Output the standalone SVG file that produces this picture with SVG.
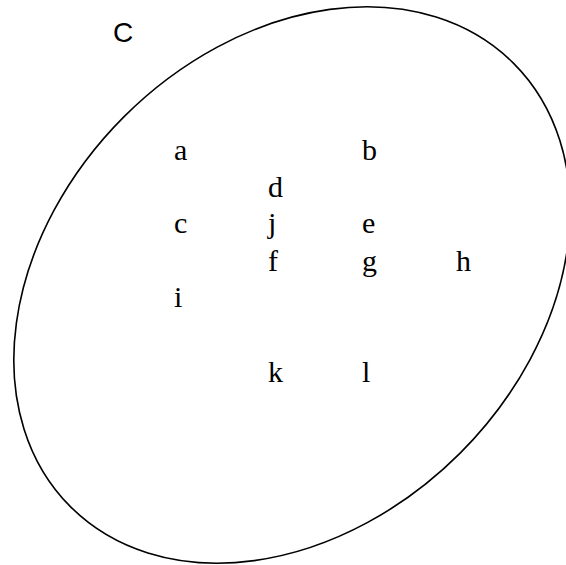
<svg xmlns="http://www.w3.org/2000/svg" width="566" height="565" viewBox="0 0 566 565">
<style>
.lbl{font-family:"Liberation Serif","Times New Roman",serif;font-size:30px;fill:#000}
.set{font-family:"Liberation Sans",Arial,sans-serif;font-size:28px;fill:#000}
</style>
<rect width="566" height="565" fill="#fff"/>
<g id="setC">
<ellipse cx="292" cy="285" rx="313.4" ry="237.8" transform="rotate(-45 292 285)" fill="none" stroke="#000" stroke-width="1.6"/>
<text class="set" x="113" y="42">C</text>
</g>
<g id="connectors"></g>
<g id="n-a"><text class="lbl" x="174" y="160">a</text></g>
<g id="n-b"><text class="lbl" x="362" y="160">b</text></g>
<g id="n-d"><text class="lbl" x="268" y="197">d</text></g>
<g id="n-c"><text class="lbl" x="174" y="233">c</text></g>
<g id="n-j"><text class="lbl" x="268" y="233">j</text></g>
<g id="n-e"><text class="lbl" x="362" y="233">e</text></g>
<g id="n-f"><text class="lbl" x="268" y="271">f</text></g>
<g id="n-g"><text class="lbl" x="362" y="271">g</text></g>
<g id="n-h"><text class="lbl" x="456" y="271">h</text></g>
<g id="n-i"><text class="lbl" x="174" y="307">i</text></g>
<g id="n-k"><text class="lbl" x="268" y="382">k</text></g>
<g id="n-l"><text class="lbl" x="362" y="382">l</text></g>
</svg>
